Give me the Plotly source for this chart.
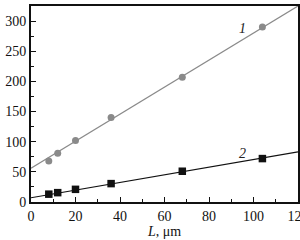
import plotly.graph_objects as go

# Series 1 (grey circles)
x1 = [8, 12, 20, 36, 68, 104]
y1 = [68, 81, 102, 140, 207, 290]
# Fit line 1 endpoints
fit1_x = [0, 120]
fit1_y = [56, 325]

# Series 2 (black squares)
x2 = [8, 12, 20, 36, 68, 104]
y2 = [13, 15.5, 21, 30.5, 51, 72]
fit2_x = [0, 120]
fit2_y = [7, 83]

x_ticks = [0, 20, 40, 60, 80, 100, 120]
y_ticks = [0, 50, 100, 150, 200, 250, 300]

FONT = "Liberation Serif"
fig = go.Figure()
fig.add_trace(go.Scatter(x=fit1_x, y=fit1_y, mode="lines",
                         line=dict(color="#8a8a8a", width=1.2), showlegend=False))
fig.add_trace(go.Scatter(x=x1, y=y1, mode="markers",
                         marker=dict(color="#8a8a8a", size=7, symbol="circle"), showlegend=False))
fig.add_trace(go.Scatter(x=fit2_x, y=fit2_y, mode="lines",
                         line=dict(color="#111111", width=1.2), showlegend=False))
fig.add_trace(go.Scatter(x=x2, y=y2, mode="markers",
                         marker=dict(color="#111111", size=7.5, symbol="square"), showlegend=False))

fig.add_annotation(x=95, y=287, text="<i>1</i>", showarrow=False,
                   font=dict(family=FONT, size=14, color="#222"))
fig.add_annotation(x=95, y=80, text="<i>2</i>", showarrow=False,
                   font=dict(family=FONT, size=14, color="#222"))

fig.update_layout(
    width=300, height=240,
    margin=dict(l=31, r=2, t=6, b=38),
    paper_bgcolor="white", plot_bgcolor="white",
    font=dict(family=FONT, size=14, color="#111"),
)
fig.update_xaxes(
    range=[0, 120], tickvals=x_ticks, ticks="inside", ticklen=5, tickcolor="#111",
    showline=True, linecolor="#111", linewidth=2, mirror=True, showgrid=False, zeroline=False,
    minor=dict(dtick=10, ticks="inside", ticklen=3, tickcolor="#111"),
    title=dict(text="<i>L</i>, μm", standoff=2, font=dict(size=14)),
    tickfont=dict(size=14), ticklabeloverflow="allow", automargin=False,
)
fig.update_yaxes(
    range=[0, 325], tickvals=y_ticks, ticks="inside", ticklen=5, tickcolor="#111",
    showline=True, linecolor="#111", linewidth=2, mirror=True, showgrid=False, zeroline=False,
    minor=dict(dtick=25, ticks="inside", ticklen=3, tickcolor="#111"),
    tickfont=dict(size=14), automargin=False,
)
fig.write_html("out.html")
